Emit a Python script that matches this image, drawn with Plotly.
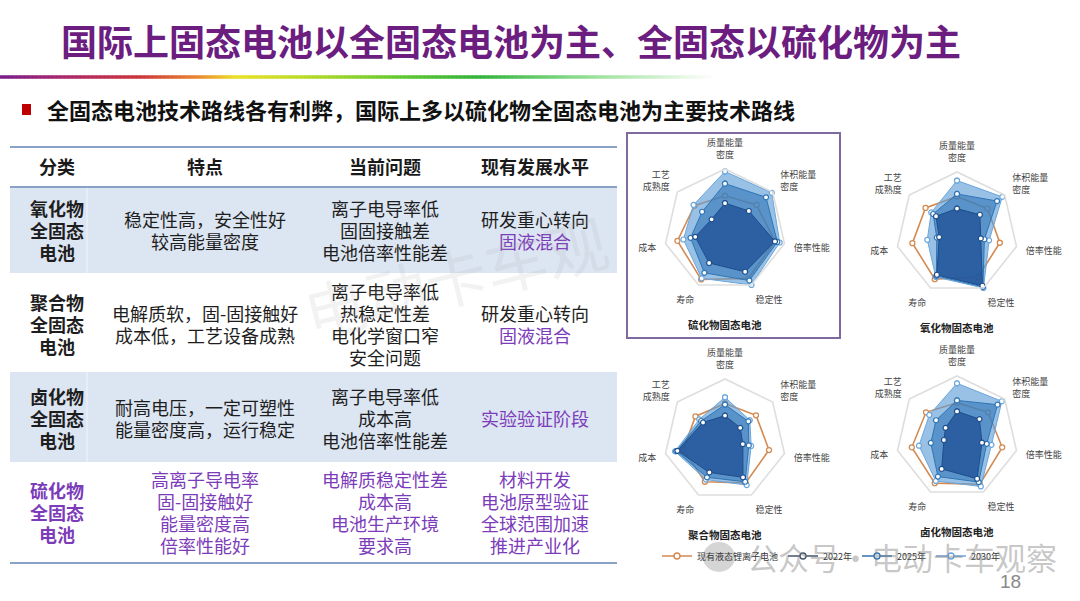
import numpy as np
import plotly.graph_objects as go

W, H = 1080, 601

# ---- slide text ----
title_text = "国际上固态电池以全固态电池为主、全固态以硫化物为主"
bullet_text = "全固态电池技术路线各有利弊，国际上多以硫化物全固态电池为主要技术路线"

# ---- table content ----
table_header = ["分类", "特点", "当前问题", "现有发展水平"]
table_class = [["氧化物", "全固态", "电池"],
               ["聚合物", "全固态", "电池"],
               ["卤化物", "全固态", "电池"],
               ["硫化物", "全固态", "电池"]]
table_features = [["稳定性高，安全性好", "较高能量密度"],
                  ["电解质软，固-固接触好", "成本低，工艺设备成熟"],
                  ["耐高电压，一定可塑性", "能量密度高，运行稳定"],
                  ["高离子导电率", "固-固接触好", "能量密度高", "倍率性能好"]]
table_problems = [["离子电导率低", "固固接触差", "电池倍率性能差"],
                  ["离子电导率低", "热稳定性差", "电化学窗口窄", "安全问题"],
                  ["离子电导率低", "成本高", "电池倍率性能差"],
                  ["电解质稳定性差", "成本高", "电池生产环境", "要求高"]]
table_status = [["研发重心转向", "固液混合"],
                ["研发重心转向", "固液混合"],
                ["实验验证阶段"],
                ["材料开发", "电池原型验证", "全球范围加速", "推进产业化"]]
highlight_lines = {"固液混合", "实验验证阶段"}
highlight_row = 3

# ---- radar data (0-5 scale) ----
radar_axes = ["质量能量<br>密度", "体积能量<br>密度", "倍率性能", "稳定性",
              "寿命", "成本", "工艺<br>成熟度"]
series_names = ["现有液态锂离子电池", "2022年", "2025年", "2030年"]
chart_titles = ["硫化物固态电池", "氧化物固态电池", "聚合物固态电池", "卤化物固态电池"]

sulfide_liquid = [2.8, 3.3, 4.2, 4.4, 4.5, 4.0, 3.2]
sulfide_2022 = [2.2, 2.5, 4.2, 3.8, 3.0, 2.5, 1.4]
sulfide_2025 = [3.8, 4.3, 4.4, 4.6, 3.9, 2.9, 2.4]
sulfide_2030 = [4.8, 4.9, 4.6, 5.0, 4.4, 3.5, 3.3]

oxide_liquid = [3.0, 3.2, 3.6, 4.0, 4.2, 3.75, 3.3]
oxide_2022 = [2.0, 2.4, 2.0, 4.8, 3.8, 1.5, 2.2]
oxide_2025 = [3.2, 4.2, 2.3, 4.9, 3.9, 1.7, 2.5]
oxide_2030 = [4.3, 4.75, 2.7, 5.0, 4.0, 2.5, 2.7]

polymer_liquid = [3.0, 3.25, 3.7, 3.9, 3.8, 3.5, 3.1]
polymer_2022 = [2.0, 1.6, 1.5, 3.4, 2.95, 4.0, 2.3]
polymer_2025 = [2.9, 2.45, 2.0, 3.8, 3.4, 4.1, 2.5]
polymer_2030 = [3.5, 2.6, 2.2, 4.1, 3.6, 4.2, 2.7]

halide_liquid = [2.8, 3.25, 3.8, 4.3, 4.2, 3.8, 3.25]
halide_2022 = [2.1, 2.35, 2.1, 3.8, 2.9, 1.1, 1.2]
halide_2025 = [3.0, 4.25, 2.5, 4.1, 3.6, 2.2, 2.2]
halide_2030 = [4.4, 4.7, 2.9, 4.5, 4.0, 3.2, 2.9]

charts = [
    (sulfide_liquid, sulfide_2022, sulfide_2025, sulfide_2030),
    (oxide_liquid, oxide_2022, oxide_2025, oxide_2030),
    (polymer_liquid, polymer_2022, polymer_2025, polymer_2030),
    (halide_liquid, halide_2022, halide_2025, halide_2030),
]

FONT = "Noto Sans CJK SC"
PURPLE = "#7c3cba"
liquid_color = "#d38a52"
line_colors = {"2022年": "#1f4e8c", "2025年": "#2e75b6", "2030年": "#6aa6dc"}
fill_colors = {"2022年": "rgba(31,78,150,0.75)", "2025年": "rgba(46,117,182,0.6)",
               "2030年": "rgba(91,155,213,0.62)"}


def px(x):
    return x / W


def py(y):
    return 1 - y / H


def note(x, y, text, size, color, **kw):
    d = dict(x=px(x), y=py(y), text=text, showarrow=False, xanchor="center", yanchor="middle",
             font=dict(family=FONT, size=size, color=color))
    d.update(kw)
    return d


fig = go.Figure()
annotations = []
shapes = []

# title + bullet
annotations.append(note(511, 40, "<b>" + title_text + "</b>", 36, "#6b1d80"))
annotations.append(note(45, 109, "<b>" + bullet_text + "</b>", 22, "#111111", xanchor="left"))
shapes.append(dict(type="rect", xref="paper", yref="paper", x0=px(22), x1=px(31), y0=py(115), y1=py(104),
                   fillcolor="#c00000", line=dict(width=0)))

# rainbow rule under the title
stops_x = [0, 60, 140, 200, 235, 300, 400, 480, 600, 715]
stops_c = [(120, 30, 140), (170, 40, 110), (205, 55, 60), (235, 140, 50), (235, 225, 40),
           (190, 220, 40), (100, 200, 50), (50, 180, 60), (160, 228, 160), (255, 255, 255)]
for s in np.arange(0, 715, 4):
    c = [int(np.interp(s + 2, stops_x, [k[i] for k in stops_c])) for i in range(3)]
    shapes.append(dict(type="line", xref="paper", yref="paper", x0=px(s), x1=px(s + 4.5),
                       y0=py(77), y1=py(77), line=dict(color="rgb(%d,%d,%d)" % tuple(c), width=3.5)))

# table geometry
col_x = [57, 205, 385, 535]
row_bounds = [(187, 273), (273, 372), (372, 462), (462, 563)]
row_centers = [230, 324, 418, 512]
row_shaded = [True, False, True, False]
tx0, tx1 = 10, 617
LS = 21.7

for (y0, y1), shaded in zip(row_bounds, row_shaded):
    if shaded:
        shapes.append(dict(type="rect", xref="paper", yref="paper", x0=px(tx0), x1=px(tx1),
                           y0=py(y1), y1=py(y0), fillcolor="#dce5f2", line=dict(width=0), layer="below"))
        shapes.append(dict(type="line", xref="paper", yref="paper", x0=px(87), x1=px(87),
                           y0=py(y1), y1=py(y0), line=dict(color="#eef2f8", width=1.2)))
for yy in (147, 187, 563):
    shapes.append(dict(type="line", xref="paper", yref="paper", x0=px(tx0), x1=px(tx1),
                       y0=py(yy), y1=py(yy), line=dict(color="#8aa2c8", width=2)))

for cx, h in zip(col_x, table_header):
    annotations.append(note(cx, 166, "<b>" + h + "</b>", 18, "#1a1a1a"))


def add_cell(cx, cy, lines, row, bold=False):
    n = len(lines)
    for k, ln in enumerate(lines):
        color = PURPLE if (row == highlight_row or ln in highlight_lines) else "#1e1e1e"
        txt = "<b>" + ln + "</b>" if bold else ln
        annotations.append(note(cx, cy + (k - (n - 1) / 2) * LS, txt, 18, color))


for r, cy in enumerate(row_centers):
    add_cell(col_x[0], cy, table_class[r], r, bold=True)
    for c, col in enumerate([table_features, table_problems, table_status]):
        add_cell(col_x[c + 1], cy, col[r], r)

# faint watermark across the table
annotations.append(note(455, 275, "电动卡车观", 62, "rgba(170,170,170,0.15)", textangle=-14))

# radar charts
centers = [(725, 230), (957, 233), (725, 440), (957, 437)]
R = 61
for i, ((cx, cy), data) in enumerate(zip(centers, charts)):
    pid = "polar" if i == 0 else "polar%d" % (i + 1)
    liquid, v22, v25, v30 = data
    theta = radar_axes + radar_axes[:1]

    fig.add_trace(go.Scatterpolar(
        r=liquid + liquid[:1], theta=theta, mode="lines+markers", subplot=pid,
        line=dict(color=liquid_color, width=1.6),
        marker=dict(size=5, color="white", line=dict(color=liquid_color, width=1.3)),
        name=series_names[0], showlegend=False, hoverinfo="skip"))
    for name, vals in (("2030年", v30), ("2025年", v25), ("2022年", v22)):
        fig.add_trace(go.Scatterpolar(
            r=vals + vals[:1], theta=theta, mode="lines+markers", subplot=pid, fill="toself",
            fillcolor=fill_colors[name], line=dict(color=line_colors[name], width=1),
            marker=dict(size=5, color="white", line=dict(color=line_colors[name], width=1.2)),
            name=name, showlegend=False, hoverinfo="skip"))

    fig.layout[pid] = dict(
        domain=dict(x=[px(cx - R), px(cx + R)], y=[py(cy + R), py(cy - R)]),
        bgcolor="rgba(0,0,0,0)",
        gridshape="linear",
        radialaxis=dict(range=[0, 5], visible=False),
        angularaxis=dict(direction="clockwise", rotation=90, showgrid=False, showline=True,
                         linecolor="#dedede", linewidth=1.6, ticks="outside", ticklen=7,
                         tickcolor="rgba(0,0,0,0)",
                         tickfont=dict(family=FONT, size=9, color="#444444")),
    )
    annotations.append(note(cx, cy + 94, "<b>" + chart_titles[i] + "</b>", 10.5, "#222222"))

# legend entries
legend_styles = [(series_names[0], liquid_color), ("2022年", "#44546a"),
                 ("2025年", line_colors["2025年"]), ("2030年", line_colors["2030年"])]
for rank, (name, color) in enumerate(legend_styles):
    fig.add_trace(go.Scatterpolar(
        r=[None], theta=[None], mode="lines+markers", subplot="polar", name=name,
        line=dict(color=color, width=1.6), legendrank=rank + 1,
        marker=dict(size=6, color="white", line=dict(color=color, width=1.4))))

# sulfide highlight frame
shapes.append(dict(type="rect", xref="paper", yref="paper", x0=px(627), x1=px(840), y0=py(338), y1=py(133),
                   line=dict(color="#7e6a9e", width=2)))

# watermark (icon bubble + text) and page number
shapes.append(dict(type="circle", xref="paper", yref="paper", x0=px(703), x1=px(735), y0=py(572), y1=py(542),
                   fillcolor="rgba(150,150,150,0.4)", line=dict(width=0)))
annotations.append(note(745, 556, "公众号·电动卡车观察", 31, "rgba(130,130,130,0.45)", xanchor="left"))
annotations.append(note(1010, 581, "18", 19, "#8a8a8a", font=dict(family="Liberation Sans", size=19,
                                                                  color="#8a8a8a")))

fig.update_layout(
    width=W, height=H,
    margin=dict(l=0, r=0, t=0, b=0),
    paper_bgcolor="white",
    plot_bgcolor="white",
    font=dict(family=FONT),
    annotations=annotations,
    shapes=shapes,
    showlegend=True,
    legend=dict(orientation="h", x=px(657), y=py(556), xanchor="left", yanchor="middle",
                bgcolor="rgba(0,0,0,0)", font=dict(family=FONT, size=9, color="#333333"),
                itemwidth=30, traceorder="normal"),
)

fig.write_html("out.html", config={"displayModeBar": False},
               post_script="document.body.style.margin='0';")
